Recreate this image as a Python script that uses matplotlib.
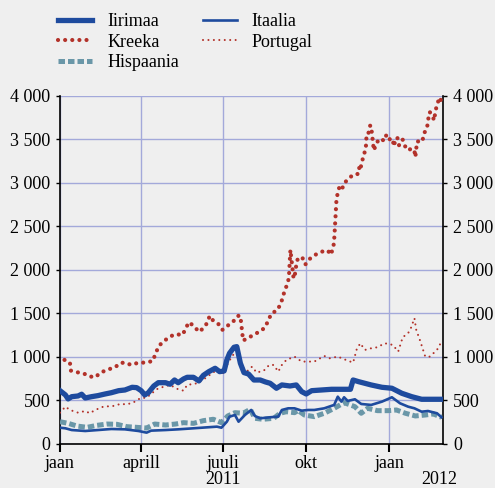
import matplotlib
matplotlib.use("Agg")
import matplotlib.pyplot as plt
from matplotlib.transforms import blended_transform_factory
import numpy as np

plt.rcParams['font.family'] = ['Liberation Serif', 'DejaVu Serif']

# x values are days since 1 Jan 2011
ire_days = [0,6,9,13,20,24,28,35,42,50,57,65,72,80,85,90,94,98,104,109,117,122,127,131,137,
            141,148,154,159,165,172,177,182,185,188,193,196,198,200,204,209,215,222,228,233,240,246,255,262,268,273,
            279,290,301,309,322,325,331,338,345,357,368,379,390,401,412,423]
ire_vals = [608,559,513,539,547,567,524,539,551,570,585,608,616,647,643,608,559,585,662,700,700,682,731,700,743,
            762,762,720,785,827,866,827,835,962,1039,1108,1115,1020,924,816,800,731,731,708,693,636,674,662,674,597,570,
            608,616,624,624,624,731,712,693,674,647,636,578,539,509,509,509]

gre_days = [5,11,12,19,26,32,39,45,53,61,67,72,79,87,95,103,106,110,115,122,
            128,136,139,143,149,154,159,163,166,169,175,180,186,192,197,200,201,202,203,210,
            217,223,228,231,235,240,245,247,250,253,254,254.5,255,255.5,256,257,258,259,261,262,
            264,269,272,277,283,291,297,300,303,304,304.5,305,305.5,306,306.5,308,310,313,314,318,
            320,325,328,331,332,333,335,337,339,339.5,340,342,344,345,346,347,348,350.5,354,360,
            362,366,369,370,372,374,376,380,382,386,390,393,394,395,396,402,403,407,408,410,
            413,415,416,418,421,423]
gre_vals = [962,931,839,820,808,774,762,816,851,877,927,931,904,931,931,950,1039,1127,1177,1231,
            1258,1250,1319,1396,1346,1285,1327,1385,1469,1423,1385,1308,1357,1403,1469,1469,1373,1281,1185,1223,
            1265,1296,1346,1423,1503,1526,1607,1691,1780,1864,1953,2048,2141,2229,2180,2087,1995,1899,1968,2060,
            2141,2133,2060,2126,2172,2210,2222,2172,2249,2345,2430,2522,2614,2706,2798,2890,2959,2929,2979,3029,
            3048,3094,3102,3102,3189,3159,3247,3332,3382,3474,3566,3574,3662,3651,3558,3466,3374,3447,3508,3485,
            3558,3497,3505,3420,3493,3523,3431,3497,3431,3374,3397,3366,3297,3393,3477,3477,3558,3631,3719,3816,
            3765,3719,3811,3900,3984,3931]

esp_days = [0,9,19,30,41,52,63,74,85,96,105,117,128,137,148,159,170,179,186,194,203,211,216,225,237,
            244,251,260,264,271,282,293,304,315,327,334,341,352,364,373,383,394,405,414,423]
esp_vals = [251,232,201,186,209,224,221,194,186,178,224,213,224,240,232,263,279,240,317,355,348,394,290,279,290,
            348,366,355,380,328,309,348,405,470,424,348,405,378,378,386,348,317,328,340,302]

ita_days = [0,6,13,28,42,57,72,87,96,101,117,131,148,163,174,179,185,188,194,198,205,212,216,222,233,
            242,246,253,260,268,275,282,293,304,308,312,315,319,327,334,345,357,368,377,386,393,401,408,418,423]
ita_vals = [182,175,155,144,155,167,163,144,125,148,155,163,175,186,194,182,251,309,328,251,328,386,317,290,302,
            309,386,405,405,378,386,386,405,444,539,482,532,490,509,455,444,482,532,463,424,405,366,374,348,302]

por_days = [0,6,11,20,28,33,39,48,59,67,74,81,89,96,102,107,113,122,131,137,
            141,152,161,166,174,179,183,186,192,197,199,202,207,213,218,226,232,237,242,246,
            251,260,268,275,282,293,299,308,317,325,329,333,338,345,352,360,369,375,380,386,
            389,393,395,399,405,410,418,423]
por_vals = [355,424,386,355,374,348,386,424,432,455,451,470,521,528,578,624,647,674,624,608,
            674,693,751,789,847,808,816,924,1020,1039,943,885,827,885,816,839,904,904,827,904,
            962,1000,943,943,943,1008,981,1000,962,931,1085,1154,1077,1096,1108,1154,1135,1058,1223,1270,
            1327,1442,1308,1192,1000,1000,1077,1173]

tick_days = [0, 90, 181, 273, 365]
tick_labels = ['jaan', 'aprill', 'juuli', 'okt', 'jaan']
year_labels = [(181, '2011'), (421, '2012')]
y_ticks = [0, 500, 1000, 1500, 2000, 2500, 3000, 3500, 4000]

BG = '#efefef'
BLUE = '#1e4b9e'
RED = '#b3322a'
TEAL = '#6a97a8'
GRID = '#a3a9da'
FS = 13

fig = plt.figure(figsize=(4.95, 4.88), dpi=100, facecolor=BG)
ax = fig.add_axes([60/495, 1-443.5/488, (443.3-60)/495, (443.5-96)/488])
ax.set_facecolor(BG)

l_ire, = ax.plot(ire_days, ire_vals, color=BLUE, lw=3.8, solid_joinstyle='round', label='Iirimaa', zorder=5)
l_gre, = ax.plot(gre_days, gre_vals, color=RED, lw=3.0, linestyle=(0, (0.01, 1.7)),
                 dash_capstyle='round', label='Kreeka', zorder=4)
l_esp, = ax.plot(esp_days, esp_vals, color=TEAL, lw=3.6, linestyle=(0, (1.3, 0.6)),
                 dash_capstyle='butt', label='Hispaania', zorder=3)
l_ita, = ax.plot(ita_days, ita_vals, color=BLUE, lw=1.9, label='Itaalia', zorder=6)
l_por, = ax.plot(por_days, por_vals, color=RED, lw=1.5, linestyle=(0, (0.01, 2.6)),
                 dash_capstyle='round', label='Portugal', zorder=4)

ax.set_xlim(0, 425)
ax.set_ylim(0, 4000)
ax.set_yticks(y_ticks)
ax.set_yticklabels([f"{v:,}".replace(',', ' ') for v in y_ticks])
ax.set_xticks(tick_days)
ax.set_xticklabels(tick_labels)
ax.grid(True, color=GRID, lw=1.0)
ax.set_axisbelow(True)

ax.spines['top'].set_visible(False)
for s in ['left', 'right', 'bottom']:
    ax.spines[s].set_color('black')
    ax.spines[s].set_linewidth(1.2)

ax.tick_params(axis='y', which='both', left=True, right=True, labelleft=True, labelright=True,
               direction='out', length=3, width=1.0, labelsize=FS, pad=4)
ax.tick_params(axis='x', direction='out', length=6, width=1.5, labelsize=FS, pad=2)

tr = blended_transform_factory(ax.transData, ax.transAxes)
for xd, txt in year_labels:
    ax.text(xd, -(480 - 443.5) / 347.5, txt, transform=tr, ha='center', va='center', fontsize=FS)

fig.legend(handles=[l_ire, l_gre, l_esp, l_ita, l_por], ncol=2, frameon=False,
           loc='upper left', bbox_to_anchor=(58/495, 1-13/488), fontsize=FS,
           handlelength=1.9, handletextpad=0.83, columnspacing=1.3, labelspacing=0.2,
           borderaxespad=0, borderpad=0)

fig.savefig('out.png', dpi=100, facecolor=BG)
